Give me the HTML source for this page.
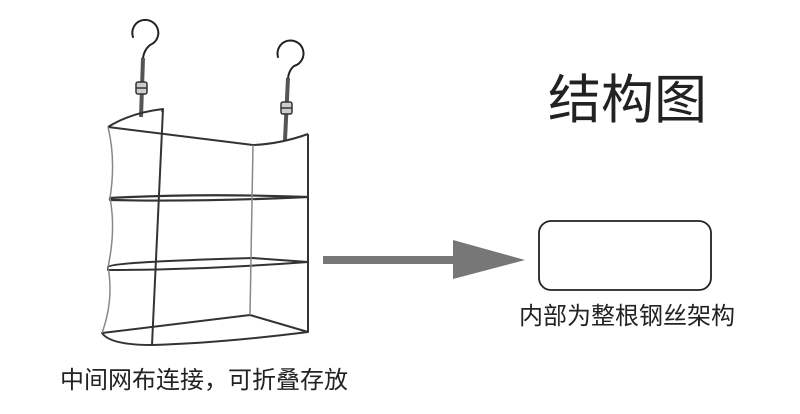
<!DOCTYPE html>
<html><head><meta charset="utf-8"><style>
html,body{margin:0;padding:0;background:#fff;}
body{width:800px;height:414px;position:relative;overflow:hidden;font-family:"Liberation Sans","Noto Sans CJK SC",sans-serif;}
.t{position:absolute;white-space:nowrap;color:#222;}
</style></head><body>
<svg width="800" height="414" style="position:absolute;left:0;top:0" fill="none">
<g stroke="#222" stroke-width="2" stroke-linecap="round">
<!-- hooks -->
<path d="M133 37 A13 13 0 1 1 150 45 Q144 50 143 58" />
<path d="M278 57 A13 13 0 1 1 294 66 Q289 70 288 78" />
</g>
<g stroke="#555" stroke-width="4">
<line x1="143" y1="58" x2="141" y2="117"/>
<line x1="288" y1="78" x2="285" y2="140"/>
</g>
<g stroke="#333" stroke-width="1.5" fill="#ccc">
<rect x="136" y="82" width="11" height="12" rx="2"/>
<rect x="281" y="102" width="11" height="12" rx="2"/>
<line x1="136" y1="88" x2="147" y2="88"/>
<line x1="281" y1="108" x2="292" y2="108"/>
</g>
<g stroke="#333" stroke-width="2" stroke-linejoin="round">
<path d="M108 127 Q130 113 163 109 L162 112"/>
<path d="M108 127 L253 145 Q280 144 308 134"/>
<path d="M163 109 L152 345"/>
<line x1="308" y1="134" x2="308" y2="332"/>
<path d="M110 198 Q200 193 308 197 Q200 202 110 200 Z" stroke-width="2.2"/>
<path d="M108 267 Q110 262 253 258 L308 262 Q200 270 108 270 Z"/>
<path d="M102 333 L250 315 L308 332 Q220 343 152 345 Q110 345 102 333 Z"/>
</g>
<g stroke="#888" stroke-width="1.5">
<path d="M108 127 Q116 160 110 198 Q116 230 108 267 Q114 300 102 333"/>
<path d="M253 145 L250 315"/>
</g>
<!-- arrow -->
<rect x="323" y="256" width="132" height="8" fill="#777"/>
<polygon points="453,240 525,260 453,279" fill="#777"/>
<rect x="539" y="221" width="172" height="69" rx="12" stroke="#222" stroke-width="1.8"/>
</svg>
<div class="t" style="left:548px;top:70px;font-size:53px;line-height:62px;">结构图</div>
<div class="t" style="left:519px;top:302px;font-size:24px;line-height:30px;">内部为整根钢丝架构</div>
<div class="t" style="left:60px;top:366px;font-size:24px;line-height:30px;">中间网布连接，可折叠存放</div>
</body></html>
